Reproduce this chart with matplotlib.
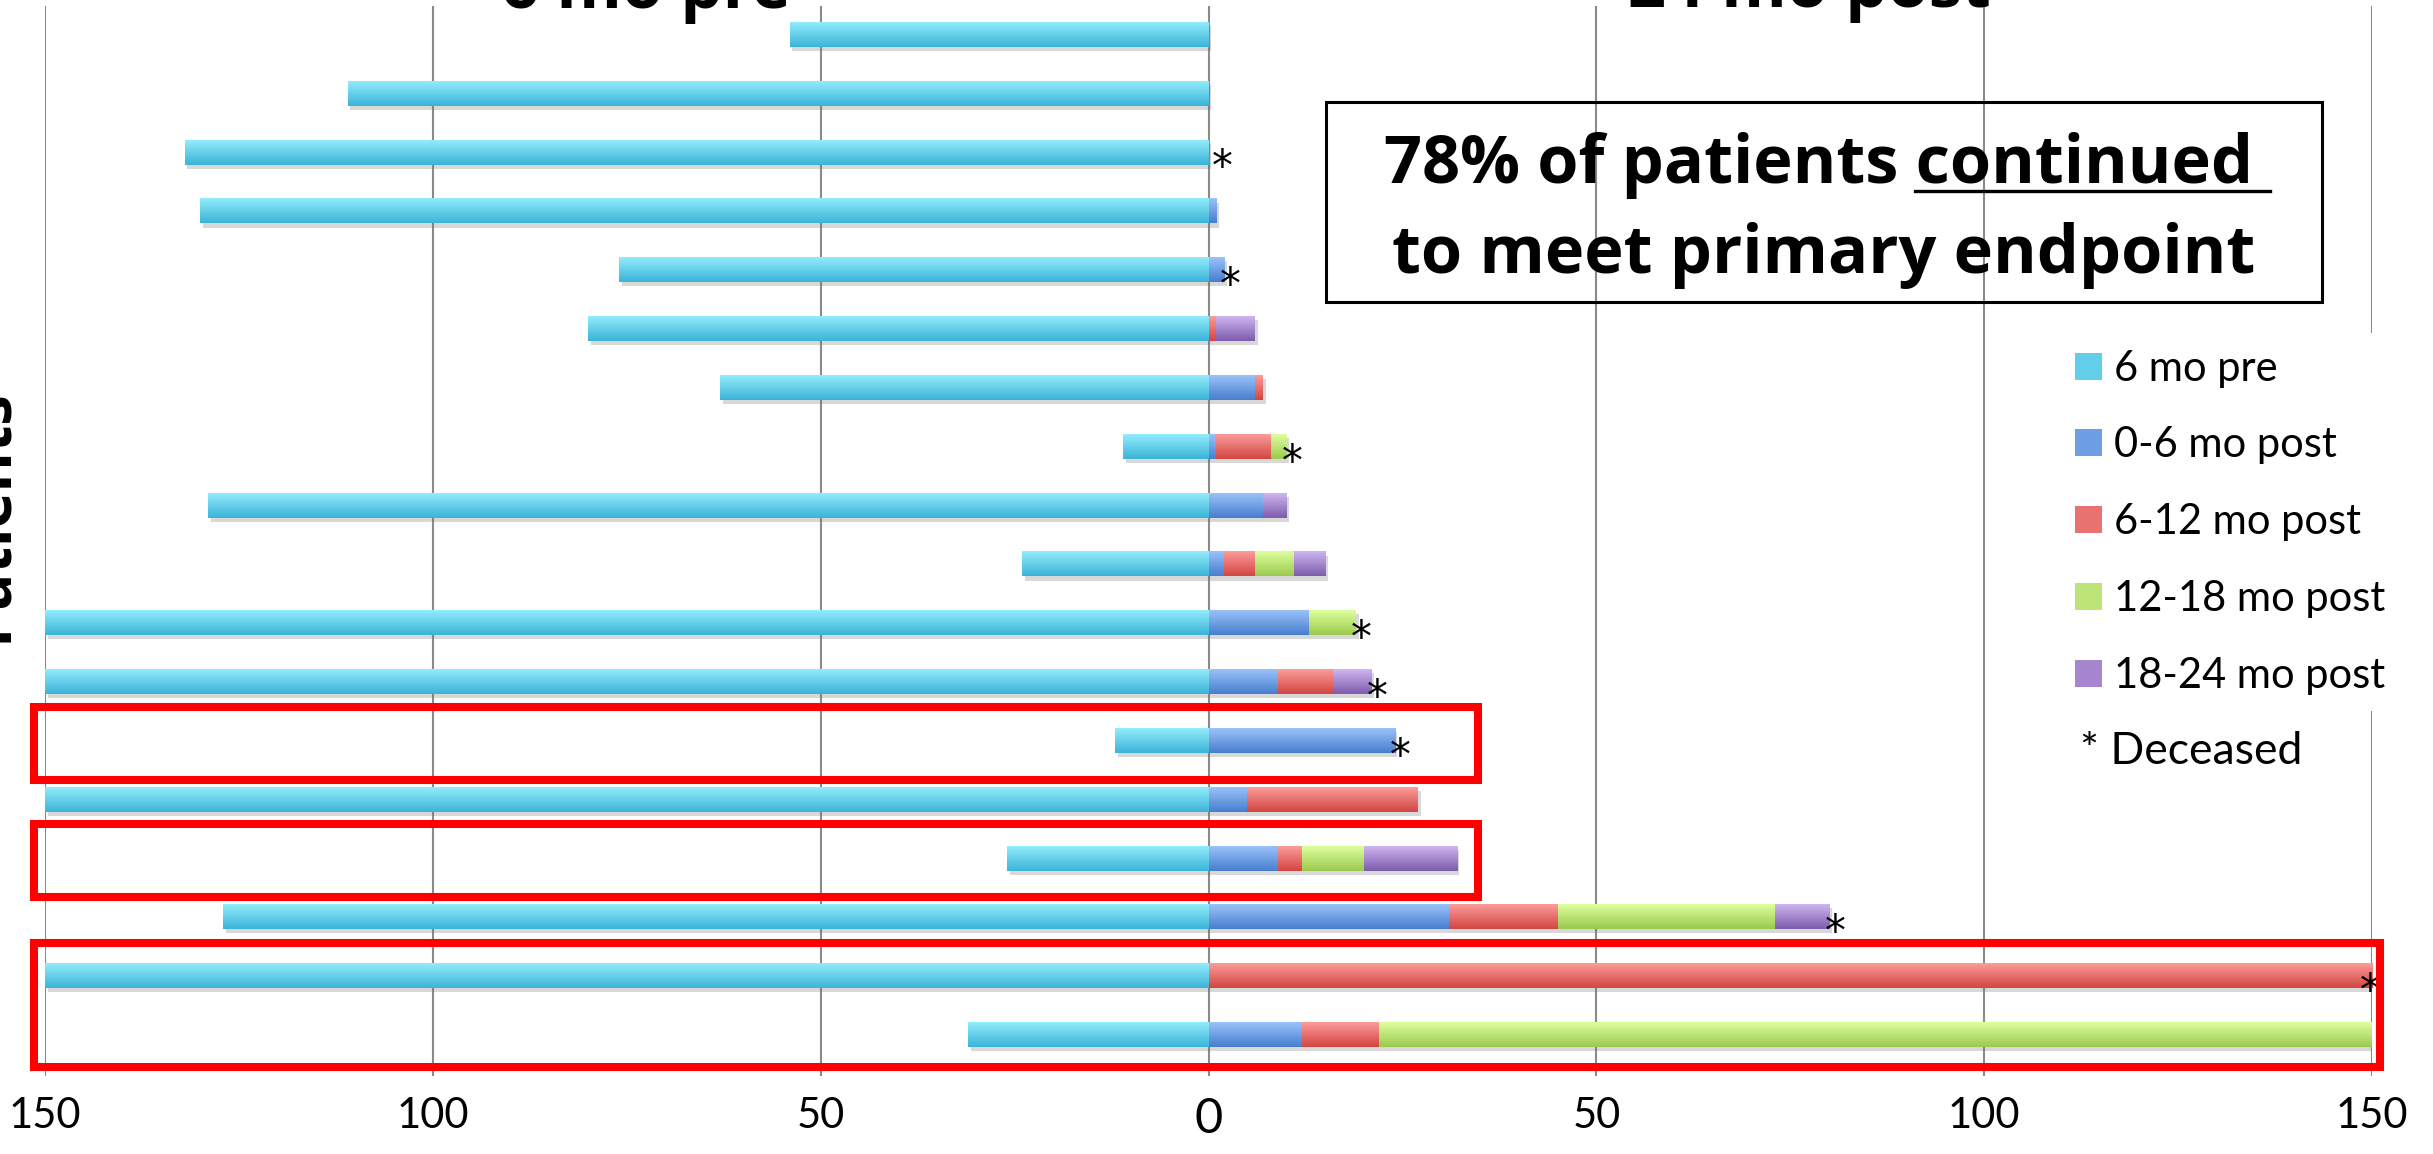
import numpy as np
import matplotlib
matplotlib.use("Agg")
import matplotlib.pyplot as plt
from matplotlib.patches import Rectangle, Patch
from matplotlib.lines import Line2D
from matplotlib.colors import LinearSegmentedColormap
import matplotlib.patheffects as pe

# ---------------- data (rows top -> bottom) ----------------
series_names = ["6 mo pre", "0-6 mo post", "6-12 mo post", "12-18 mo post", "18-24 mo post"]
pre_6mo   = [54, 111, 132, 130, 76, 80, 63, 11, 129, 24, 150, 150, 12, 150, 26, 127, 150, 31]
post_0_6  = [0, 0, 0, 1, 2, 0, 6, 1, 7, 2, 13, 9, 24, 5, 9, 31, 0, 12]
post_6_12 = [0, 0, 0, 0, 0, 1, 1, 7, 0, 4, 0, 7, 0, 22, 3, 14, 150, 10]
post_12_18 = [0, 0, 0, 0, 0, 0, 0, 2, 0, 5, 6, 0, 0, 0, 8, 28, 0, 128]
post_18_24 = [0, 0, 0, 0, 0, 5, 0, 0, 3, 4, 0, 5, 0, 0, 12, 7, 0, 0]
deceased_rows = [2, 4, 7, 10, 11, 12, 15, 16]
highlight_groups = [(12, 12, 34.7), (14, 14, 34.7), (16, 17, 151.0)]  # (first row, last row, right edge)
xticks = [-150, -100, -50, 0, 50, 100, 150]
xtick_labels = ["150", "100", "50", "0", "50", "100", "150"]

# ---------------- styling ----------------
grad_colors = [("#92ECFB", "#3BB4D8"),
               ("#9AC2FA", "#477ECD"),
               ("#FC9C9A", "#D24643"),
               ("#DEFE9E", "#9BCA4E"),
               ("#CFB5F0", "#7D5CAD")]
mid_colors = ["#62CFEA", "#6E9FE4", "#E8726F", "#BDE477", "#A687CF"]

W, H = 2433, 1154
fig = plt.figure(figsize=(W / 100, H / 100), dpi=100)
fx = lambda px: px / W
fy = lambda py: 1 - py / H

ax = fig.add_axes([fx(45), fy(1076), 2327 / W, 1070 / H])
rows = np.arange(len(pre_6mo))
bar_h = 0.425
shadow = [pe.SimplePatchShadow(offset=(2, -3), shadow_rgbFace=(0.45, 0.45, 0.45), alpha=0.28), pe.Normal()]

containers = []
containers.append(ax.barh(rows, -np.array(pre_6mo), height=bar_h, color=mid_colors[0], lw=0,
                          path_effects=shadow, zorder=1))
left = np.zeros(len(rows))
for k, vals in enumerate([post_0_6, post_6_12, post_12_18, post_18_24]):
    vals = np.array(vals, dtype=float)
    containers.append(ax.barh(rows, vals, left=left, height=bar_h, color=mid_colors[k + 1], lw=0,
                              path_effects=shadow, zorder=1))
    left = left + vals
totals = left

# gradient fill on each bar segment
grad = np.linspace(0, 1, 64).reshape(-1, 1)
for k, cont in enumerate(containers):
    cmap = LinearSegmentedColormap.from_list("g%d" % k, list(grad_colors[k]))
    for p in cont.patches:
        w = p.get_width()
        if w == 0:
            continue
        x0 = p.get_x()
        x1 = x0 + w
        y0 = p.get_y()
        h = p.get_height()
        ax.imshow(grad, extent=(min(x0, x1), max(x0, x1), y0 + h, y0), cmap=cmap,
                  aspect="auto", origin="upper", interpolation="bilinear", zorder=2)

# deceased asterisks
for i in deceased_rows:
    xpos = min(totals[i] - 0.6, 148.4)
    if totals[i] == 0:
        xpos = 0.4
    ax.text(xpos, rows[i] + 0.48, "*", ha="left", va="baseline", fontsize=30,
            family="DejaVu Sans", color="black", zorder=4)

# red highlight boxes
for (r0, r1, xr) in highlight_groups:
    xl = -151.4
    yt = r0 - 0.56
    yb = r1 + 0.56 if r1 != r0 else r1 + 0.67
    if r0 == r1:
        yt = r0 - 0.57
    ax.add_patch(Rectangle((xl, yt), xr - xl, yb - yt, fill=False, edgecolor="#FF0000",
                           lw=5.8, joinstyle="miter", clip_on=False, zorder=5))

ax.set_xlim(-150, 150)
ax.set_ylim(17.706, -0.485)
ax.set_xticks(xticks)
ax.set_xticklabels(xtick_labels)
ax.set_yticks([])
ax.tick_params(axis="x", length=0, pad=15, labelsize=30)
for lab in ax.get_xticklabels():
    lab.set_family("Lato")
    if lab.get_text() == "0":
        lab.set_fontsize(35)
for s in ax.spines.values():
    s.set_visible(False)
ax.set_axisbelow(True)
ax.xaxis.grid(True, color="#8a8a8a", lw=1.5)

# legend
handles = [Patch(facecolor=c, edgecolor="none") for c in mid_colors]
leg = fig.legend(handles, series_names, loc="upper left",
                 bbox_to_anchor=(fx(2058), fy(333)), bbox_transform=fig.transFigure,
                 prop={"family": "Lato", "size": 30}, frameon=True, facecolor="white",
                 edgecolor="none", framealpha=1, fancybox=False, borderaxespad=0,
                 borderpad=0.4, handlelength=0.65, handleheight=0.62, handletextpad=0.29,
                 labelspacing=0.93)
leg.set_zorder(6)
fig.text(fx(2080), fy(764), "* Deceased", family="Lato", fontsize=32, va="baseline", ha="left")

# titles (partially cut off at top) and y label
bold = dict(family="Open Sans", weight="bold", fontsize=48)
fig.text(fx(646), fy(8), "6 mo pre", ha="center", va="baseline", **bold)
fig.text(fx(1809), fy(7), "24 mo post", ha="center", va="baseline", **bold)
fig.text(fx(6), fy(515), "Patients", rotation=90, rotation_mode="anchor",
         ha="center", va="baseline", family="Open Sans", weight="bold", fontsize=44)

# annotation box
fig.add_artist(Rectangle((fx(1326), fy(302)), (2322 - 1326) / W, 200 / H, fill=False,
                         edgecolor="black", lw=2.2, transform=fig.transFigure))
t1 = fig.text(fx(1818), fy(183), "78% of patients continued", ha="center", va="baseline", **bold)
t2 = fig.text(fx(1824), fy(273), "to meet primary endpoint", ha="center", va="baseline", **bold)
fig.canvas.draw()
r = fig.canvas.get_renderer()
bb = t1.get_window_extent(r)
tmp = fig.text(0, 0, "continued", **bold)
wc = tmp.get_window_extent(r).width
tmp.remove()
fig.add_artist(Line2D([(bb.x1 - wc) / W, (bb.x1 + 17) / W], [fy(191), fy(191)],
                      color="black", lw=2.4, transform=fig.transFigure))

fig.savefig("out.png", dpi=100)
